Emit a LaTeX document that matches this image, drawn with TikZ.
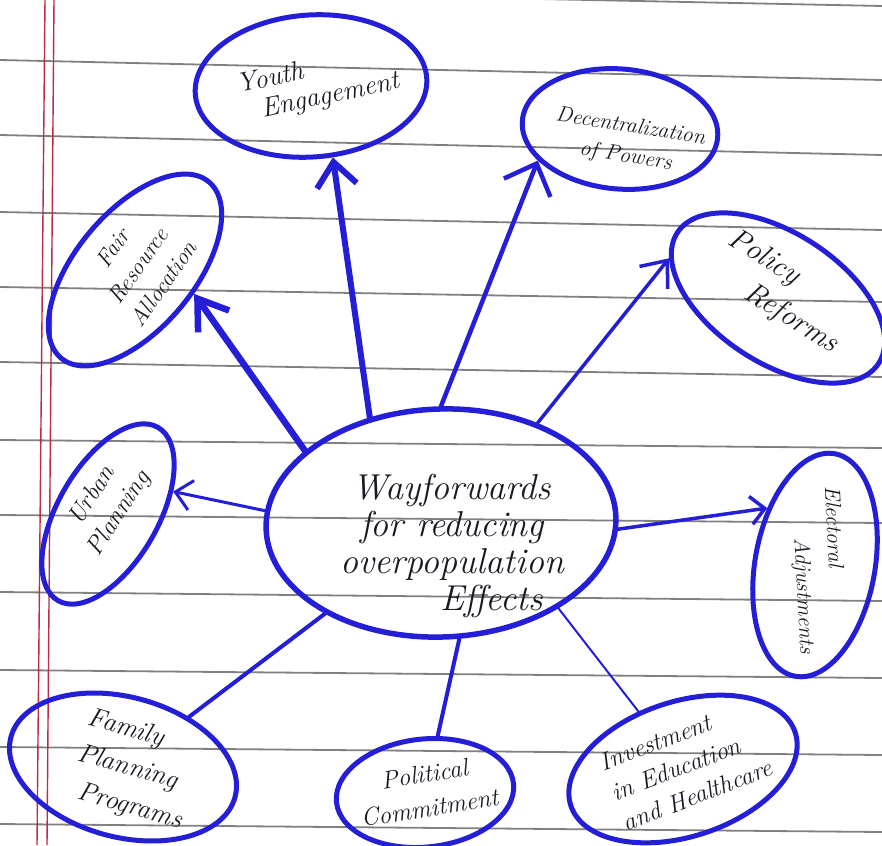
\documentclass[tikz,border=0pt]{standalone}
\usepackage{fontspec}
\usetikzlibrary{shapes.geometric,arrows.meta}
\definecolor{ink}{RGB}{36,30,214}
\definecolor{ruling}{RGB}{128,128,128}
\definecolor{marginred}{RGB}{185,45,70}
\definecolor{pencil}{RGB}{25,25,35}
\begin{document}
\begin{tikzpicture}[x=1pt,y=-1pt,
  bubble/.style={ellipse,draw=ink,line width=5pt,inner sep=0pt},
  handtext/.style={text=pencil,inner sep=0pt},
  conn/.style={draw=ink,line width=#1,line cap=round,line join=round},
  barb/.style n args={2}{-{Straight Barb[length=#1,width=#2]}},
]
\useasboundingbox (0,0) rectangle (882,845);
\clip (0,0) rectangle (882,845);
\fill[white] (0,0) rectangle (882,845);
% ruled paper
\foreach \a/\b in {-12/6, 60/80, 135/155, 212/230, 287/302, 362/377, 440/448, 515/523, 592/601, 670/678, 747/755, 824/832}
  \draw[ruling,line width=1.8pt] (0,\a) -- (882,\b);
\draw[marginred,line width=1.4pt] (45,0) -- (37,845);
\draw[marginred,line width=1.4pt] (54,0) -- (47,845);

% bubbles
\node[bubble,line width=5.5pt,minimum width=350pt,minimum height=228pt,rotate=2] (c) at (441,523) {};
\node[bubble,minimum width=232pt,minimum height=142pt,rotate=4] (youth) at (311,86) {};
\node[bubble,minimum width=196pt,minimum height=120pt,rotate=-5] (dec) at (620,129) {};
\node[bubble,minimum width=240pt,minimum height=130pt,rotate=-33] (pol) at (778,298) {};
\node[bubble,minimum width=226pt,minimum height=120pt,rotate=80] (ele) at (815,565) {};
\node[bubble,minimum width=230pt,minimum height=118pt,rotate=50] (fair) at (135,270) {};
\node[bubble,minimum width=200pt,minimum height=100pt,rotate=60] (urb) at (108,514) {};
\node[bubble,minimum width=232pt,minimum height=140pt,rotate=-15] (fam) at (123,767) {};
\node[bubble,minimum width=178pt,minimum height=108pt,rotate=6] (polc) at (425,793) {};
\node[bubble,minimum width=236pt,minimum height=135pt,rotate=18] (inv) at (683,769) {};

% texts
\node[handtext,font=\itshape\fontsize{36}{37}\selectfont,align=center] (ct) at (452,546)
  {Wayforwards\\for reducing\\overpopulation\\\hspace*{2.2em}Effects};
\node[handtext,font=\itshape\fontsize{27}{29}\selectfont,align=left,rotate=12] (youtht) at (318,84)
  {Youth\\\hspace*{0.7em}Engagement};
\node[handtext,font=\itshape\fontsize{22}{30}\selectfont,align=center,rotate=-9] (dect) at (628,142)
  {Decentralization\\of Powers};
\node[handtext,font=\itshape\fontsize{30}{37}\selectfont,align=left,rotate=-32] (polt) at (783,292)
  {Policy\\\hspace*{1.4em}Reforms};
\node[handtext,font=\itshape\fontsize{22}{33}\selectfont,align=left,rotate=-87] (elet) at (818,570)
  {Electoral\\\hspace*{2.3em}Adjustments};
\node[handtext,font=\itshape\fontsize{23}{31}\selectfont,align=center,rotate=55] (fairt) at (138,266)
  {Fair\\Resource\\Allocation};
\node[handtext,font=\itshape\fontsize{25}{32}\selectfont,align=center,rotate=57] (urbt) at (106,505)
  {Urban\\Planning};
\node[handtext,font=\itshape\fontsize{27}{37}\selectfont,align=left,rotate=-16] (famt) at (135,770)
  {Family\\Planning\\\hspace*{0.4em}Programs};
\node[handtext,font=\itshape\fontsize{25}{34}\selectfont,align=center,rotate=9] (polct) at (427,791)
  {Political\\Commitment};
\node[handtext,font=\itshape\fontsize{25}{32}\selectfont,align=left,rotate=21] (invt) at (686,765)
  {Investment\\in Education\\and Healthcare};

% connectors
\draw[conn=6pt,barb={24pt}{40pt}] (c.122) -- (youth.-77);
\draw[conn=6.5pt,barb={28pt}{38pt}] (c.150) -- (fair.-72);
\draw[conn=4.5pt,barb={26pt}{50pt}] (c.88) -- (dec.206);
\draw[conn=3.5pt,barb={22pt}{36pt}] (c.44) -- (pol.193);
\draw[conn=3.5pt,barb={14pt}{28pt}] (c.-4) -- (ele.50);
\draw[conn=3pt,barb={16pt}{30pt}] (c.174) -- (urb.-41);
\draw[conn=4pt] (c.216) -- (fam);
\draw[conn=4pt] (c.-83) -- (polc);
\draw[conn=2pt] (c.-38) -- (inv);
\end{tikzpicture}
\end{document}
